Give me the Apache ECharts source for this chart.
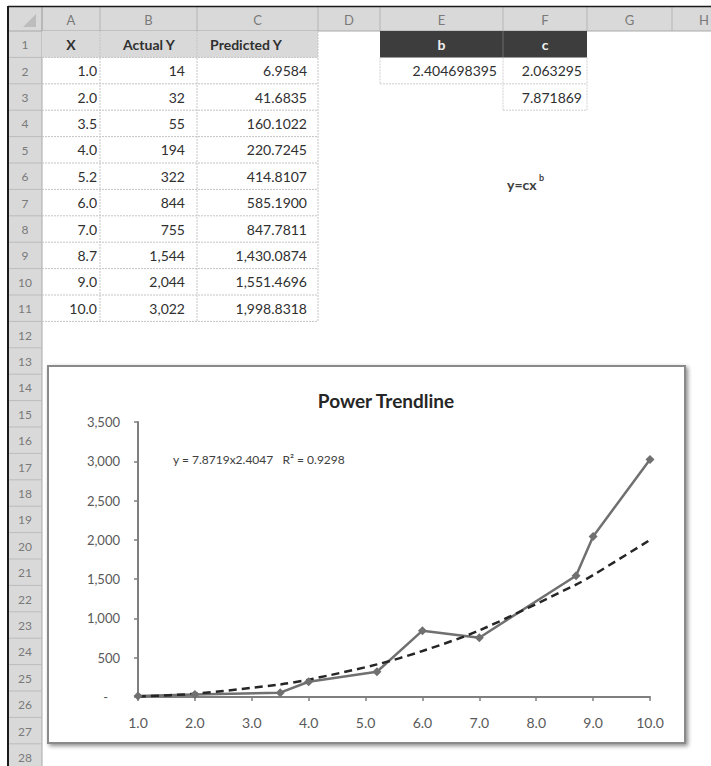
<!DOCTYPE html>
<html><head><meta charset="utf-8">
<script src="https://cdn.jsdelivr.net/npm/echarts@6/dist/echarts.min.js"></script>
<style>html,body{margin:0;padding:0;background:#fff;}#c{width:711px;height:766px;}</style>
</head><body><div id="c"></div>
<script>
// ---- data ----
const xValues = [1.0, 2.0, 3.5, 4.0, 5.2, 6.0, 7.0, 8.7, 9.0, 10.0];
const actualY = [14, 32, 55, 194, 322, 844, 755, 1544, 2044, 3022];
const predictedY = [6.9584, 41.6835, 160.1022, 220.7245, 414.8107, 585.1900, 847.7811, 1430.0874, 1551.4696, 1998.8318];
const tableHeaders = ['X', 'Actual Y', 'Predicted Y'];
const paramHeaders = ['b', 'c'];
const paramB = ['2.404698395'];
const paramC = ['2.063295', '7.871869'];
const columnLetters = ['A', 'B', 'C', 'D', 'E', 'F', 'G', 'H'];
const rowCount = 28;
const chartTitle = 'Power Trendline';
const equationText = 'y = 7.8719x2.4047   R\u00B2 = 0.9298';
const formulaMain = 'y=cx';
const formulaExp = 'b';

// ---- layout ----
const FONT = 'Lato';
const colEdges = [42, 100, 197, 318, 380, 503, 587, 672, 757];
const colLabelX = [71, 148.5, 257.5, 349, 441.5, 545, 629.5, 704];
const headTop = 7, headBot = 31, rowH = 26.4, leftEdge = 8;
const rowTop = i => headBot + (i - 1) * rowH; // row i (1-based) top

const els = [];
function rect(x, y, w, h, fill, extra) {
  els.push(Object.assign({type: 'rect', shape: {x, y, width: w, height: h}, style: {fill}, silent: true}, extra || {}));
}
function line(x1, y1, x2, y2, stroke, lw, dash) {
  els.push({type: 'line', shape: {x1, y1, x2, y2}, style: {stroke, lineWidth: lw || 1, lineDash: dash || null}, silent: true});
}
function text(x, y, t, opt) {
  els.push({type: 'text', x, y, silent: true,
    style: Object.assign({text: t, fill: '#303030', fontFamily: FONT, fontSize: 14, align: 'left', verticalAlign: 'middle'}, opt || {})});
}

// headers
rect(leftEdge, headTop, 711 - leftEdge, headBot - headTop, '#d9d9d9');
rect(leftEdge, headBot, colEdges[0] - leftEdge, 766 - headBot, '#d9d9d9');
// corner triangle
els.push({type: 'polygon', shape: {points: [[36, 14], [36, 27], [23, 27]]}, style: {fill: '#bdbdbd'}, silent: true});
colEdges.forEach(x => line(x, headTop, x, headBot, '#b5b5b5', 1));
columnLetters.forEach((l, i) => text(colLabelX[i], (headTop + headBot) / 2 + 1, l, {align: 'center', fill: '#7a7a7a', fontSize: 13}));
line(leftEdge, headBot, 711, headBot, '#a9a9a9', 1);
line(colEdges[0], headTop, colEdges[0], 766, '#a9a9a9', 1);
for (let r = 1; r <= rowCount; r++) {
  const y = rowTop(r);
  line(leftEdge, y + rowH, colEdges[0], y + rowH, '#bcbcbc', 1);
  text(25, y + rowH / 2 + 0.5, String(r), {align: 'center', fill: '#7a7a7a', fontSize: 12});
}
// black outer border
line(leftEdge, 6.5, 711, 6.5, '#1a1a1a', 1.5);
line(leftEdge, 6, leftEdge, 766, '#1a1a1a', 2);

// table A1:C11
rect(colEdges[0], rowTop(1), colEdges[3] - colEdges[0], rowH, '#d9d9d9');
for (let r = 1; r <= xValues.length + 1; r++) {
  line(colEdges[0], rowTop(r) + rowH, colEdges[3], rowTop(r) + rowH, '#c4c4c4', 1, [2, 1]);
}
[1, 2, 3].forEach(c => line(colEdges[c], rowTop(1), colEdges[c], rowTop(xValues.length + 2), '#c4c4c4', 1, [2, 1]));
text(71, rowTop(1) + rowH / 2, tableHeaders[0], {align: 'center', fontWeight: 'bold'});
text(149, rowTop(1) + rowH / 2, tableHeaders[1], {align: 'center', fontWeight: 'bold'});
text(246, rowTop(1) + rowH / 2, tableHeaders[2], {align: 'center', fontWeight: 'bold'});
xValues.forEach((xv, i) => {
  const cy = rowTop(i + 2) + rowH / 2;
  text(colEdges[1] - 3, cy, xv.toFixed(1), {align: 'right'});
  text(colEdges[2] - 12, cy, actualY[i].toLocaleString('en-US'), {align: 'right'});
  text(colEdges[3] - 11, cy, predictedY[i].toLocaleString('en-US', {minimumFractionDigits: 4, maximumFractionDigits: 4}), {align: 'right'});
});

// parameter block E1:F3
rect(colEdges[4], rowTop(1), colEdges[6] - colEdges[4], rowH, '#3d3d3d');
line(colEdges[5], rowTop(1), colEdges[5], rowTop(1) + rowH, '#6a6a6a', 1);
text((colEdges[4] + colEdges[5]) / 2, rowTop(1) + rowH / 2, paramHeaders[0], {align: 'center', fill: '#f0f0f0', fontWeight: 'bold'});
text((colEdges[5] + colEdges[6]) / 2, rowTop(1) + rowH / 2, paramHeaders[1], {align: 'center', fill: '#f0f0f0', fontWeight: 'bold'});
line(colEdges[4], rowTop(3), colEdges[6], rowTop(3), '#cfcfcf', 1, [2, 1]);
line(colEdges[5], rowTop(4), colEdges[6], rowTop(4), '#cfcfcf', 1, [2, 1]);
line(colEdges[4], rowTop(2), colEdges[4], rowTop(3), '#cfcfcf', 1, [2, 1]);
line(colEdges[5], rowTop(2), colEdges[5], rowTop(4), '#cfcfcf', 1, [2, 1]);
line(colEdges[6], rowTop(2), colEdges[6], rowTop(4), '#cfcfcf', 1, [2, 1]);
text(colEdges[5] - 6, rowTop(2) + rowH / 2, paramB[0], {align: 'right'});
text(colEdges[6] - 5, rowTop(2) + rowH / 2, paramC[0], {align: 'right'});
text(colEdges[6] - 5, rowTop(3) + rowH / 2, paramC[1], {align: 'right'});
// formula label
text(507, 184, formulaMain, {fontSize: 14, fontWeight: 'bold', fill: '#404040'});
text(539, 177, formulaExp, {fontSize: 9, fontWeight: 'bold', fill: '#404040'});

// chart frame
els.push({type: 'rect', shape: {x: 48, y: 366, width: 637, height: 377}, silent: true,
  style: {fill: '#ffffff', stroke: '#8a8a8a', lineWidth: 2, shadowColor: 'rgba(0,0,0,0.45)', shadowBlur: 4, shadowOffsetX: 2, shadowOffsetY: 2}});
// trendline label
text(173, 459, equationText, {fontSize: 12, fill: '#404040'});

const chart = echarts.init(document.getElementById('c'), null, {renderer: 'svg'});
chart.setOption({
  animation: false,
  backgroundColor: '#ffffff',
  title: {
    text: chartTitle, left: 386, top: 391, padding: 0, textAlign: 'center',
    textStyle: {fontFamily: FONT, fontSize: 19, fontWeight: 'bold', color: '#262626'}
  },
  graphic: {elements: els},
  grid: {left: 138, right: 61, top: 422, bottom: 69, containLabel: false},
  xAxis: {
    type: 'value', min: 1, max: 10, interval: 1,
    axisLine: {show: true, lineStyle: {color: '#7f7f7f', width: 2}},
    axisTick: {show: true, length: 4, lineStyle: {color: '#7f7f7f', width: 1.5}},
    splitLine: {show: false},
    axisLabel: {margin: 18, fontFamily: FONT, fontSize: 14, color: '#595959', formatter: v => v.toFixed(1)}
  },
  yAxis: {
    type: 'value', min: 0, max: 3500, interval: 500,
    axisLine: {show: true, lineStyle: {color: '#7f7f7f', width: 2}},
    axisTick: {show: true, length: 4, lineStyle: {color: '#7f7f7f', width: 1.5}},
    splitLine: {show: false},
    axisLabel: {margin: 18, fontFamily: FONT, fontSize: 13, color: '#595959',
      formatter: v => v === 0 ? '{z|-}' : v.toLocaleString('en-US'),
      rich: {z: {padding: [0, 12, 0, 0], fontFamily: FONT, fontSize: 13, color: '#595959'}}}
  },
  series: [
    {
      name: 'Actual Y', type: 'line',
      data: xValues.map((x, i) => [x, actualY[i]]),
      symbol: 'diamond', symbolSize: 9,
      lineStyle: {color: '#707070', width: 2.5},
      itemStyle: {color: '#707070'}
    },
    {
      name: 'Power trendline', type: 'line',
      data: xValues.map((x, i) => [x, predictedY[i]]),
      smooth: 0.3, symbol: 'none',
      lineStyle: {color: '#262626', width: 2.5, type: [8, 5]}
    }
  ]
});
</script>
</body></html>
